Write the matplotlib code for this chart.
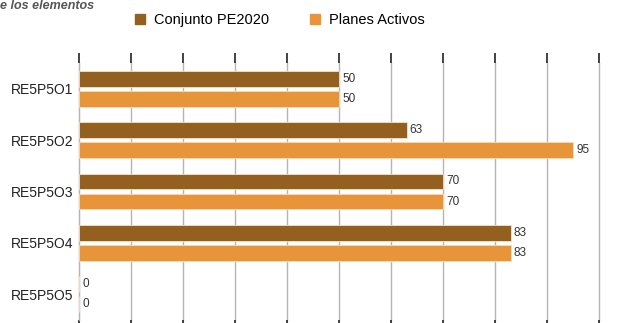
import matplotlib
matplotlib.use("Agg")
import matplotlib.pyplot as plt
from matplotlib.patches import Patch
import numpy as np

categories = ["RE5P5O1", "RE5P5O2", "RE5P5O3", "RE5P5O4", "RE5P5O5"]
conjunto = [50, 63, 70, 83, 0]
planes = [50, 95, 70, 83, 0]
series_names = ["Conjunto PE2020", "Planes Activos"]
title_text = "e los elementos"

dark = "#94601f"
orange = "#e8953a"

plt.rcParams["font.family"] = ["Liberation Sans", "DejaVu Sans"]

fig = plt.figure(figsize=(6.43, 3.23), dpi=100)
W, H = 643, 323
ax = fig.add_axes([79 / W, 3 / H, 520 / W, 257 / H])

y = np.arange(len(categories))
h = 0.31
off = 0.195
ax.barh(y - off, conjunto, height=h, color=dark, edgecolor="#f3e2c8", linewidth=0.6, zorder=3)
ax.barh(y + off, planes, height=h, color=orange, edgecolor="#f8dcb8", linewidth=0.6, zorder=3)

# value labels just right of each bar
for yi, v in zip(y, conjunto):
    ax.text(v + 0.6, yi - off, str(v), va="center", ha="left", fontsize=8.5, color="#333333")
for yi, v in zip(y, planes):
    ax.text(v + 0.6, yi + off, str(v), va="center", ha="left", fontsize=8.5, color="#333333")

ax.set_xlim(0, 100)
ax.set_ylim(len(categories) - 0.5, -0.5)
ax.set_xticks(np.arange(0, 101, 10))
ax.set_xticklabels([])
ax.set_yticks(y)
ax.set_yticklabels(categories, fontsize=10, color="#222222")
ax.tick_params(axis="y", length=0, pad=4)
ax.tick_params(axis="x", which="both", top=True, bottom=True, direction="out",
               length=7, width=1.2, color="#222222")
ax.grid(axis="x", color="#b5b5b5", linewidth=1, zorder=0)
for line in ax.get_xgridlines():
    line.set_clip_on(False)
for s in ["top", "right", "bottom"]:
    ax.spines[s].set_visible(False)
ax.spines["left"].set_color("#b5b5b5")

handles = [Patch(facecolor=dark, edgecolor=dark), Patch(facecolor=orange, edgecolor=orange)]
fig.legend(handles, series_names, loc="center", bbox_to_anchor=(280 / W, 1 - 20 / H),
           ncol=2, frameon=False, fontsize=10.5, handlelength=0.7, handleheight=0.7,
           columnspacing=2.8, handletextpad=0.6, borderpad=0, borderaxespad=0)

fig.text(0.0, 1.0, title_text, ha="left", va="top", fontsize=9,
         fontstyle="italic", fontweight="bold", color="#555555")

fig.savefig("out.png", dpi=100)
